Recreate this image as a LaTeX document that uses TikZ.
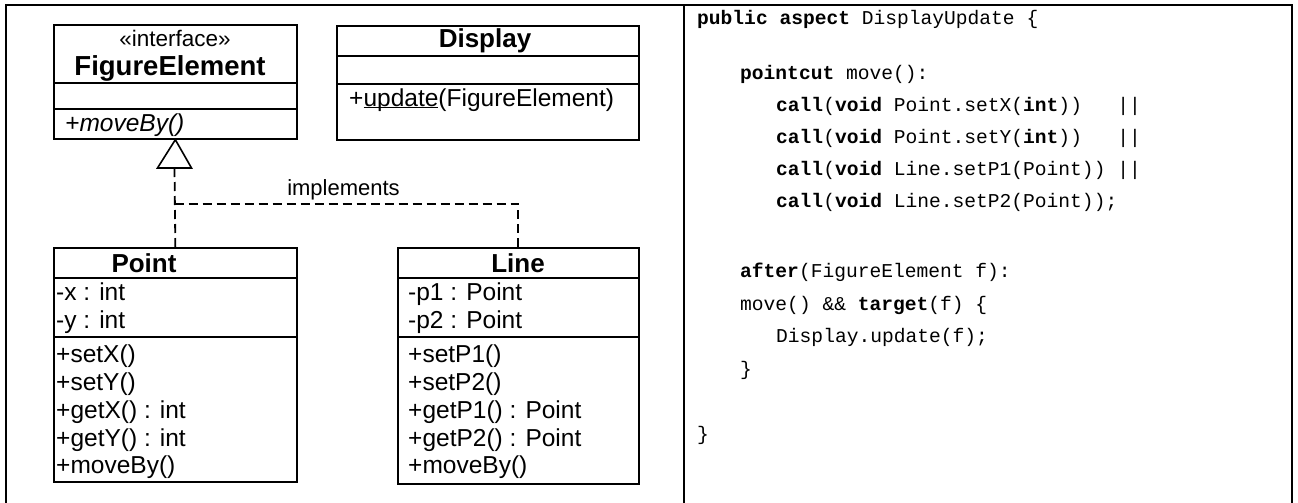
\documentclass[tikz,border=0pt]{standalone}
\usepackage{fontspec}
\setmainfont{Liberation Sans}
\newfontfamily\codefont{Liberation Mono}
\begin{document}
\begin{tikzpicture}[x=1pt,y=-1pt,
  umlbox/.style={draw, line width=1.7pt, inner sep=0pt, anchor=north west},
  sepline/.style={line width=1.7pt},
  cname/.style={font=\fontsize{26}{30}\selectfont\bfseries, inner sep=0pt, anchor=base},
  mem/.style={font=\fontsize{24.5}{30}\selectfont, inner sep=0pt, anchor=base west},
  codeline/.style={font=\codefont\fontsize{19.6}{23}\selectfont, inner sep=0pt, anchor=base west},
  framestyle/.style={line width=2.2pt},
  realize/.style={line width=1.8pt, dash pattern=on 9pt off 5pt}
]
\useasboundingbox (0,0) rectangle (1298,503);
% frame
\draw[framestyle] (6,515) -- (6,5) -- (1292,5) -- (1292,515);
\draw[framestyle] (684,5) -- (684,515);

% FigureElement
\node[umlbox, minimum width=243pt, minimum height=114pt] (fe) at (53,24) {};
\draw[sepline] (53,83) -- (296,83);
\draw[sepline] (53,109) -- (296,109);
\node[font=\fontsize{22.5}{26}\selectfont, inner sep=0pt, anchor=base] (festereo) at (175,47) {«interface»};
\node[cname, font=\fontsize{27.5}{30}\selectfont\bfseries] (fename) at (170,76) {FigureElement};
\node[mem, font=\fontsize{24.5}{30}\selectfont\itshape] (femove) at (65,131) {+moveBy()};

% Display
\node[umlbox, minimum width=302pt, minimum height=114pt] (disp) at (336,25) {};
\draw[sepline] (336,56) -- (638,56);
\draw[sepline] (336,84) -- (638,84);
\node[cname] (dispname) at (485,48) {Display};
\node[mem] (dispupd) at (349,106) {+\underline{\smash{update}}(FigureElement)};

% Point
\node[umlbox, minimum width=243pt, minimum height=234pt] (point) at (53,247) {};
\draw[sepline] (53,278) -- (296,278);
\draw[sepline] (53,337) -- (296,337);
\node[cname] (ptname) at (144,272) {Point};
\node[mem] (pt1) at (56,300) {-x : int};
\node[mem] (pt2) at (56,328) {-y : int};
\node[mem] (pt3) at (56,362) {+setX()};
\node[mem] (pt4) at (56,390) {+setY()};
\node[mem] (pt5) at (56,418) {+getX() : int};
\node[mem] (pt6) at (56,446) {+getY() : int};
\node[mem] (pt7) at (56,473) {+moveBy()};

% Line
\node[umlbox, minimum width=241pt, minimum height=236pt] (line) at (397,247) {};
\draw[sepline] (397,278) -- (638,278);
\draw[sepline] (397,337) -- (638,337);
\node[cname] (lnname) at (518,272) {Line};
\node[mem] (ln1) at (408,300) {-p1 : Point};
\node[mem] (ln2) at (408,328) {-p2 : Point};
\node[mem] (ln3) at (408,362) {+setP1()};
\node[mem] (ln4) at (408,390) {+setP2()};
\node[mem] (ln5) at (408,418) {+getP1() : Point};
\node[mem] (ln6) at (408,446) {+getP2() : Point};
\node[mem] (ln7) at (408,473) {+moveBy()};

% realization
\coordinate (tri) at (174.5,168);
\coordinate (j) at (174.5,204);
\draw[realize] (point.north) -- (tri);
\draw[realize] (j) -| (line.north);
\draw[line width=1.6pt, fill=white, line join=miter] (fe.south) -- (157.5,168) -- (191.5,168) -- cycle;
\node[font=\fontsize{22}{26}\selectfont, inner sep=0pt, anchor=base] (impl) at (343.5,195) {implements};

% code
\node[codeline] (c1) at (697,25) {\textbf{public aspect} DisplayUpdate \{};
\node[codeline] (c2) at (740,79) {\textbf{pointcut} move():};
\node[codeline] (c3) at (776,111) {\textbf{call}(\textbf{void} Point.setX(\textbf{int}))\ \ \ ||};
\node[codeline] (c4) at (776,143) {\textbf{call}(\textbf{void} Point.setY(\textbf{int}))\ \ \ ||};
\node[codeline] (c5) at (776,175) {\textbf{call}(\textbf{void} Line.setP1(Point))\ ||};
\node[codeline] (c6) at (776,207) {\textbf{call}(\textbf{void} Line.setP2(Point));};
\node[codeline] (c7) at (740,277) {\textbf{after}(FigureElement f):};
\node[codeline] (c8) at (740,310) {move() \&\& \textbf{target}(f) \{};
\node[codeline] (c9) at (776,342) {Display.update(f);};
\node[codeline] (c10) at (740,375) {\}};
\node[codeline] (c11) at (697,440) {\}};
\end{tikzpicture}
\end{document}
